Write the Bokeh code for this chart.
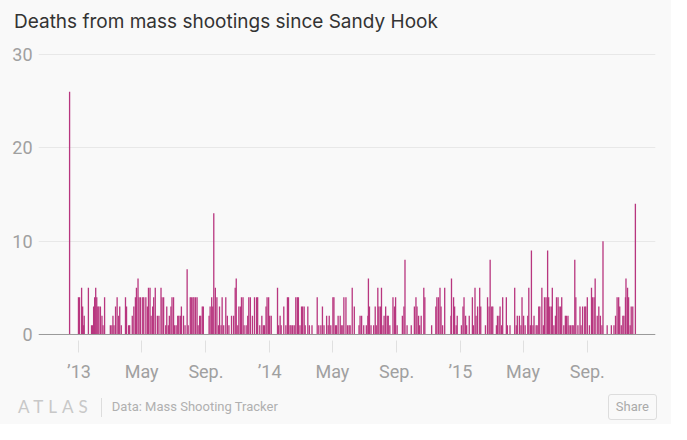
import pandas as pd
from bokeh.plotting import figure
from bokeh.layouts import column
from bokeh.models import Range1d, FixedTicker, Span, ColumnDataSource, Div
from bokeh.embed import file_html
from bokeh.resources import INLINE

title_text = "Deaths from mass shootings since Sandy Hook"
source_note = "Data: Mass Shooting Tracker"
brand = "ATLAS"
share_text = "Share"

start_date = "2012-12-14"
days_since_sandy_hook = [
    0, 17, 18, 19, 23, 25, 27, 28, 36, 42, 44, 46, 48, 50, 52, 54, 56, 59, 62, 64, 67,
    78, 81, 83, 85, 88, 91, 94, 96, 99, 107, 109, 113, 115, 120, 123, 126, 128, 131, 133,
    136, 140, 142, 146, 149, 151, 154, 156, 159, 161, 164, 168, 171,
    175, 177, 180, 184, 186, 189, 191, 194, 196, 199, 201, 204, 207, 209, 212, 214, 218,
    221, 225, 227, 231, 233, 236, 238, 241, 244, 246, 249, 251, 254, 256, 267, 269, 272,
    274, 276, 279, 282, 285, 287, 290, 292, 295, 299, 302, 305, 310, 314, 317, 319, 322,
    324, 327, 329, 332, 334, 338, 341, 343, 346, 350, 354,
    358, 360, 364, 368, 371, 373, 376, 378, 381, 383, 386, 398, 400, 403, 405, 410, 414,
    417, 419, 422, 424, 427, 430, 433, 436, 438, 441, 444, 446, 449, 451, 456, 459, 464,
    474, 477, 481, 484, 487, 492, 495, 497, 500, 504, 506, 509, 511, 514, 518, 520, 523, 525,
    529, 532, 535, 537, 541, 545, 554, 556, 559, 563, 568, 571, 572, 574, 577, 582, 585,
    587, 590, 592, 595, 597, 600, 602, 605, 608, 610, 613, 619, 622, 624, 627, 637, 640,
    642, 646, 654, 660, 663, 665, 668, 670, 673, 678, 680, 693, 701, 703, 706, 709, 711,
    714, 718,
    730, 731, 735, 737, 740, 742, 750, 753, 755, 758, 760, 765, 771, 773, 776, 778, 781,
    785, 787, 796, 800, 803, 805, 808, 810, 817, 819, 822, 824, 827, 829, 836, 838, 843,
    852, 855, 857, 861, 864, 866, 869, 872, 877, 879, 882, 884, 887, 889, 893,
    895, 898, 900, 904, 907, 909, 912, 915, 917, 919, 922, 924, 927, 930, 932, 935, 937,
    940, 942, 946, 949, 951, 954, 956, 959, 962, 964, 967, 969, 973, 977, 979, 982, 986,
    988, 991, 995, 999, 1001, 1004, 1006, 1010, 1013, 1016, 1019, 1021, 1029, 1037, 1042,
    1045, 1048, 1051, 1053, 1056, 1059, 1061, 1064, 1065, 1068, 1070, 1073, 1075, 1078, 1083,
]
deaths = [
    26, 4, 1, 4, 5, 3, 1, 2, 5, 1, 1, 3, 4, 5, 4, 3, 3, 3, 2, 1, 4,
    1, 1, 2, 1, 3, 4, 2, 3, 1, 4, 3, 1, 1, 2, 3, 4, 5, 6, 4,
    4, 4, 4, 4, 3, 5, 5, 2, 3, 4, 5, 2, 2,
    5, 4, 4, 1, 3, 1, 2, 3, 4, 4, 1, 1, 2, 2, 2, 3, 2,
    1, 7, 1, 4, 4, 4, 4, 4, 4, 1, 2, 2, 3, 3, 2, 3, 4,
    3, 13, 5, 4, 1, 3, 1, 4, 1, 4, 2, 1, 2, 2, 5, 6, 1,
    3, 3, 4, 4, 1, 1, 2, 4, 4, 2, 4,
    4, 4, 1, 2, 1, 1, 3, 4, 4, 2, 2, 5, 1, 2, 1, 3, 1,
    4, 4, 1, 1, 1, 1, 4, 4, 4, 1, 3, 3, 3, 1, 3, 1, 1,
    4, 1, 1, 3, 1, 2, 1, 2, 1, 4, 4, 1, 1, 2, 2, 1, 1, 4,
    4, 1, 1, 1, 5, 3, 1, 2, 2, 1, 1, 2, 6, 3, 1, 1, 3,
    1, 5, 3, 3, 5, 1, 2, 3, 2, 2, 1, 4, 3, 4, 1, 2, 3,
    8, 1, 1, 3, 4, 3, 2, 1, 2, 5, 4, 1, 3, 4, 4, 5, 3,
    1, 5,
    2, 6, 4, 3, 1, 2, 1, 3, 4, 2, 1, 2, 4, 1, 5, 2, 3,
    5, 3, 1, 4, 3, 8, 3, 3, 1, 2, 2, 3, 1, 4, 4, 1, 1,
    5, 1, 2, 2, 1, 4, 2, 1, 2, 5, 1, 9, 1, 2, 1,
    1, 3, 3, 5, 1, 4, 4, 9, 4, 3, 3, 5, 1, 2, 4, 4, 3,
    3, 4, 1, 2, 2, 2, 1, 1, 1, 1, 8, 4, 1, 3, 1, 3, 3,
    3, 4, 1, 5, 4, 4, 6, 2, 3, 2, 1, 10, 1, 1, 1,
    2, 4, 4, 3, 1, 2, 2, 4, 6, 5, 4, 1, 3, 3, 14,
]

y_ticks = [0, 10, 20, 30]
x_tick_dates = ["2013-01-01", "2013-05-01", "2013-09-01",
                "2014-01-01", "2014-05-01", "2014-09-01",
                "2015-01-01", "2015-05-01", "2015-09-01"]
x_tick_labels = ["\u201913", "May", "Sep.", "\u201914", "May", "Sep.", "\u201915", "May", "Sep."]

BG = "#f9f9f9"
BAR = "#b8367f"
GREY = "#a0a0a0"
W = 671

dates = pd.Timestamp(start_date) + pd.to_timedelta(days_since_sandy_hook, unit="D")
src = ColumnDataSource(dict(date=dates, deaths=deaths))

# ---- title (HTML) ----
title_div = Div(
    text=(f'<div style="font-family:Inter,sans-serif;font-size:19px;line-height:23px;'
          f'color:#333333;padding:10px 0 0 14px;white-space:nowrap;">{title_text}</div>'),
    width=W, height=40, margin=0, styles={"background-color": BG})

# ---- chart ----
p = figure(width=W, height=350, x_axis_type="datetime",
           output_backend="svg", toolbar_location=None,
           x_range=Range1d(pd.Timestamp("2012-10-15 12:00"), pd.Timestamp("2016-01-09 12:00")),
           y_range=Range1d(-0.643, 30.32),
           min_border_left=38, min_border_right=16, min_border_top=11, min_border_bottom=50)

p.background_fill_color = BG
p.border_fill_color = BG
p.outline_line_color = None

p.vbar(x="date", top="deaths", bottom=0, width=2.5 * 86400000, source=src,
       fill_color=BAR, line_color=None)

p.add_layout(Span(location=0, dimension="width", line_color="#9a9a9a", line_width=1))

p.xgrid.visible = False
p.ygrid.ticker = FixedTicker(ticks=y_ticks)
p.ygrid.grid_line_color = "#e8e8e8"

p.yaxis.ticker = FixedTicker(ticks=y_ticks)
p.yaxis.axis_line_color = None
p.yaxis.major_tick_line_color = None
p.yaxis.major_tick_out = 0
p.yaxis.major_tick_in = 0
p.yaxis.minor_tick_line_color = None
p.yaxis.major_label_standoff = 6
p.yaxis.major_label_text_font = "Roboto"
p.yaxis.major_label_text_font_size = "18px"
p.yaxis.major_label_text_color = GREY

tick_ms = [int(pd.Timestamp(d).value // 10**6) for d in x_tick_dates]
p.xaxis.ticker = FixedTicker(ticks=tick_ms)
p.xaxis.major_label_overrides = {t: l for t, l in zip(tick_ms, x_tick_labels)}
p.xaxis.axis_line_color = None
p.xaxis.major_tick_line_color = "#e0e0e0"
p.xaxis.major_tick_in = 0
p.xaxis.major_tick_out = 12
p.xaxis.minor_tick_line_color = None
p.xaxis.major_label_standoff = 8
p.xaxis.major_label_text_font = "Roboto"
p.xaxis.major_label_text_font_size = "18px"
p.xaxis.major_label_text_color = GREY

# ---- footer (HTML) ----
footer_html = (
    '<div style="display:flex;align-items:center;justify-content:space-between;'
    'width:671px;height:32px;padding-top:2px;">'
    '<div style="display:flex;align-items:center;">'
    f'<span style="font-family:Lato,sans-serif;font-size:17px;letter-spacing:5px;'
    f'color:#c8c8c8;margin-left:18px;">{brand}</span>'
    '<span style="display:inline-block;width:0;height:19px;border-left:1px solid #dddddd;'
    'margin-left:8px;margin-right:10px;"></span>'
    f'<span style="font-family:Roboto,sans-serif;font-size:13px;color:#b0b0b0;">{source_note}</span>'
    '</div>'
    f'<span style="font-family:Roboto,sans-serif;font-size:13px;color:#aaaaaa;'
    f'border:1px solid #dddddd;border-radius:3px;padding:3px 7px;margin-right:14px;">{share_text}</span>'
    '</div>'
)
footer_div = Div(text=footer_html, width=W, height=34, margin=0,
                 styles={"background-color": BG})

layout = column(title_div, p, footer_div, spacing=0, styles={"background-color": BG})

open("out.html", "w").write(file_html(layout, INLINE))
